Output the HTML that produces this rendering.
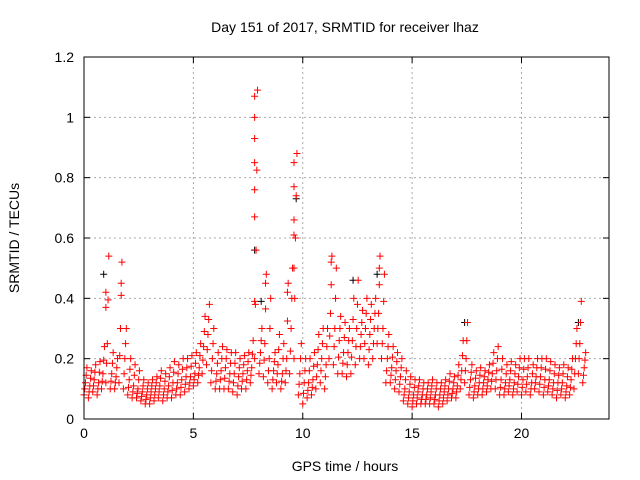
<!DOCTYPE html>
<html><head><meta charset="utf-8">
<style>
body{margin:0;background:#fff;}
svg{display:block;font-family:"Liberation Sans",sans-serif;}
</style></head>
<body>
<svg id="chart" width="640" height="480" viewBox="0 0 640 480">
<rect width="640" height="480" fill="#fff"/>
<text x="345" y="32" font-size="14" text-anchor="middle">Day 151 of 2017, SRMTID for receiver lhaz</text>
<text x="345" y="471" font-size="14" text-anchor="middle">GPS time / hours</text>
<text x="19" y="238" font-size="14" text-anchor="middle" transform="rotate(-90 19 238)">SRMTID / TECUs</text>
<g id="grid"></g>
<g id="ticks"></g>
<g id="marks"></g>
<rect x="84" y="57" width="525" height="362" fill="none" stroke="#000" stroke-width="1"/>
</svg>
<script>
const xTicks=[0,5,10,15,20];
const yTicks=[0,0.2,0.4,0.6,0.8,1,1.2];
const yTickLabels=["0","0.2","0.4","0.6","0.8","1","1.2"];
const binStart=0, binStep=0.2;
const lo=[.08,.07,.09,.08,.1,.12,.1,.1,.12,.1,.08,.07,.07,.06,.05,.05,.06,.07,.06,.07,.07,.08,.08,.09,.1,.11,.12,.15,.18,.12,.1,.1,.1,.1,.09,.08,.1,.1,.12,.2,.15,.14,.12,.1,.12,.1,.12,.15,.2,.08,.05,.07,.08,.1,.12,.1,.2,.18,.15,.15,.14,.15,.18,.2,.2,.18,.2,.25,.2,.12,.12,.1,.09,.06,.05,.04,.05,.05,.05,.05,.05,.04,.05,.06,.07,.07,.1,.12,.08,.07,.08,.08,.09,.1,.1,.08,.08,.09,.08,.09,.08,.09,.08,.1,.09,.08,.09,.08,.07,.08,.07,.08,.1,.15,.12];
const mid=[.12,.11,.13,.12,.15,.25,.15,.14,.3,.2,.13,.11,.1,.09,.08,.09,.1,.11,.1,.11,.12,.12,.13,.14,.14,.15,.17,.24,.28,.2,.15,.16,.17,.15,.15,.14,.15,.16,.17,.56,.22,.25,.2,.16,.18,.15,.2,.3,.6,.15,.12,.12,.13,.18,.2,.18,.35,.3,.26,.22,.22,.26,.3,.28,.3,.28,.3,.35,.3,.2,.17,.16,.14,.1,.09,.08,.09,.08,.08,.09,.08,.08,.09,.1,.1,.11,.16,.2,.13,.11,.12,.12,.13,.15,.16,.13,.12,.13,.12,.14,.13,.14,.12,.14,.14,.13,.13,.12,.12,.12,.11,.13,.2,.25,.17];
const hi=[.17,.16,.18,.19,.24,.54,.22,.2,.52,.3,.2,.18,.16,.13,.12,.13,.14,.16,.15,.17,.19,.18,.2,.2,.21,.22,.25,.34,.38,.3,.22,.24,.23,.22,.22,.2,.21,.22,.26,1.09,.3,.48,.4,.22,.28,.25,.45,.5,.88,.25,.2,.2,.22,.28,.3,.3,.54,.5,.34,.32,.3,.4,.46,.36,.4,.38,.4,.54,.48,.28,.24,.22,.2,.16,.14,.13,.13,.12,.12,.13,.12,.12,.13,.15,.14,.18,.26,.32,.18,.16,.17,.16,.18,.22,.24,.2,.18,.19,.18,.2,.2,.2,.18,.2,.2,.2,.19,.18,.17,.18,.17,.2,.3,.39,.22];
const spikeT=[7.8,7.8,7.8,7.8,7.8,7.8,7.8,9.6,9.6,9.6,9.6,9.6,1.0,1.7,8.3,11.3,13.5,1.0,9.3];
const spikeV=[1.07,1.0,0.93,0.85,0.76,0.67,0.39,0.85,0.77,0.66,0.61,0.5,0.42,0.45,0.45,0.52,0.5,0.37,0.42];
const blackT=[0.9,7.8,9.7,12.3,17.4,22.6,13.4,8.1];
const blackV=[0.48,0.56,0.73,0.46,0.32,0.32,0.48,0.39];

const X0=84,X1=609,Y0=419,Y1=57;
const xs=v=>X0+(v/24)*(X1-X0);
const ys=v=>Y0-(v/1.2)*(Y0-Y1);
const NS="http://www.w3.org/2000/svg";
const grid=document.getElementById('grid'),ticks=document.getElementById('ticks'),marks=document.getElementById('marks');
function line(p,x1,y1,x2,y2,st,dash){const l=document.createElementNS(NS,'line');l.setAttribute('x1',x1);l.setAttribute('y1',y1);l.setAttribute('x2',x2);l.setAttribute('y2',y2);l.setAttribute('stroke',st);if(dash)l.setAttribute('stroke-dasharray',dash);p.appendChild(l);return l;}
xTicks.forEach(v=>{const x=xs(v);
 if(v>0){const g=line(grid,x,Y0,x,Y1,'#aaa','2,3');}
 line(ticks,x,Y0,x,Y0-6,'#000');line(ticks,x,Y1,x,Y1+6,'#000');
 const t=document.createElementNS(NS,'text');t.setAttribute('x',x);t.setAttribute('y',Y0+19);t.setAttribute('font-size','14');t.setAttribute('text-anchor','middle');t.textContent=v;
 
 
 ticks.appendChild(t);});
yTicks.forEach((v,i)=>{const y=ys(v);
 if(v>0&&v<1.2){const g=line(grid,X0,y,X1,y,'#aaa','2,3');}
 line(ticks,X0,y,X0+6,y,'#000');line(ticks,X1,y,X1-6,y,'#000');
 const t=document.createElementNS(NS,'text');t.setAttribute('x',X0-10);t.setAttribute('y',y+5);t.setAttribute('font-size','14');t.setAttribute('text-anchor','end');t.textContent=yTickLabels[i];
 
 
 ticks.appendChild(t);});
function plus(t,v,c){const x=xs(t),y=ys(v);const p=document.createElementNS(NS,'path');
 p.setAttribute('d',`M${x-3.5},${y}H${x+3.5}M${x},${y-3.5}V${y+3.5}`);p.setAttribute('stroke',c);p.setAttribute('stroke-width','1');
 
 
 marks.appendChild(p);}
blackT.forEach((t,i)=>plus(t,blackV[i],'#000'));
for(let i=0;i<lo.length;i++){const t=binStart+i*binStep;
 plus(t,lo[i],'#f00');plus(t+binStep/3,mid[i],'#f00');plus(t+2*binStep/3,hi[i],'#f00');
 plus(t+binStep/6,(lo[i]+mid[i])/2,'#f00');plus(t+binStep/2,(mid[i]+hi[i])/2,'#f00');}
spikeT.forEach((t,i)=>plus(t,spikeV[i],'#f00'));
</script>
</body></html>
